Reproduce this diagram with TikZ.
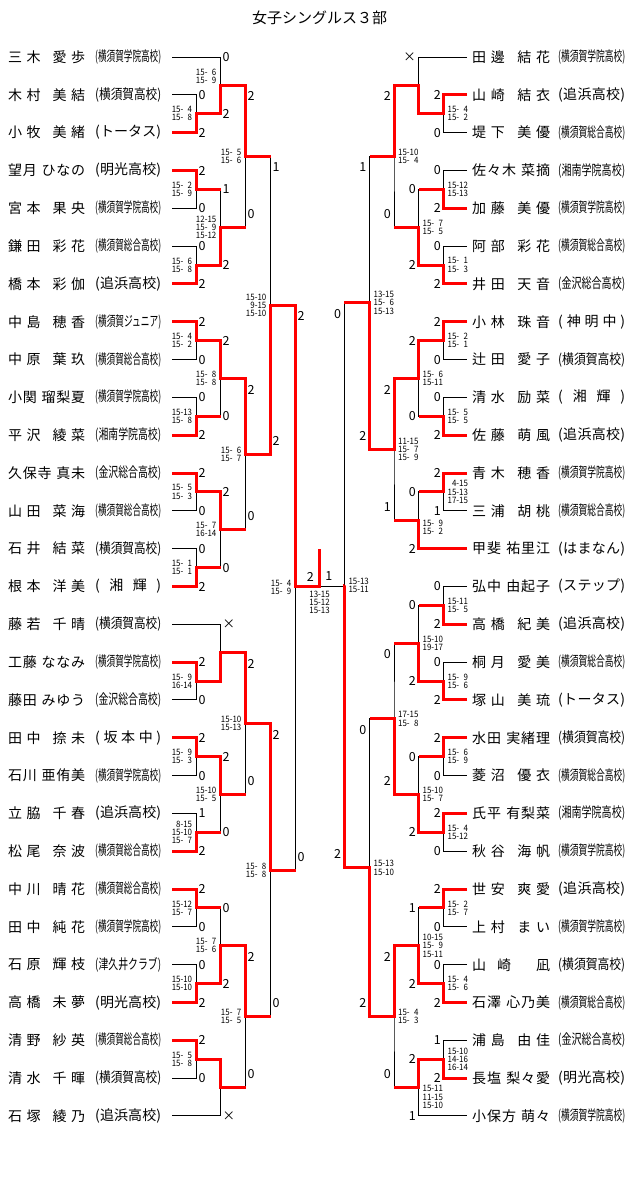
\documentclass[tikz,border=0pt]{standalone}
\usepackage{fontspec}
\setmainfont{Noto Sans CJK JP}
\newfontfamily\narrowfam{Noto Sans CJK JP}[FakeStretch=0.9]
\usepackage{graphicx}
\usetikzlibrary{calc}
\pgfdeclarelayer{front}
\pgfsetlayers{main,front}

\newcommand\namefont{\fontsize{14}{16}\selectfont}
\newcommand\labfont{\fontsize{12.5}{14}\selectfont}
\newcommand\scorefont{\narrowfam\fontsize{8.8}{8.2}\selectfont}
\newcommand\fs{\hphantom{0}}

% spread the letters of #2 over a box of width #1
\newlength\fitw
\def\spreadloop#1{\ifx\relax#1\else#1\hfil\expandafter\spreadloop\fi}
\newcommand\spread[2]{\makebox[#1][s]{\spreadloop#2\relax\unskip}}
\newcommand\fitbox[2]{\settowidth\fitw{#2}%
  \ifdim\fitw>#1\relax\resizebox{#1}{\height}{#2}\else\spread{#1}{#2}\fi}

\newcommand\ry[1]{57+37.82*#1}

\tikzset{
  title/.style={inner sep=0pt, font=\fontsize{15}{18}\selectfont},
  pname/.style={anchor=west, inner sep=0pt, font=\namefont},
  wire/.style={line width=1pt},
  win/.style={red, line width=3pt},
  lab/.style={inner sep=0pt, font=\labfont},
  tally/.style={inner sep=0pt, font=\scorefont, align=right},
  west low/.style={toplab/.style={lab, anchor=west, xshift=2pt},
    botlab/.style={lab, anchor=west, xshift=2pt},
    score/.style={tally, anchor=east, xshift=-4pt}},
  west high/.style={toplab/.style={lab, anchor=west, xshift=2pt, yshift=-11pt},
    botlab/.style={lab, anchor=west, xshift=2pt, yshift=13.5pt},
    score/.style={tally, anchor=east, xshift=-4pt}},
  east low/.style={toplab/.style={lab, anchor=east, xshift=-2.5pt},
    botlab/.style={lab, anchor=east, xshift=-2.5pt},
    score/.style={tally, anchor=west, xshift=4pt}},
  east high/.style={toplab/.style={lab, anchor=east, xshift=-3pt, yshift=-11pt},
    botlab/.style={lab, anchor=east, xshift=-3pt, yshift=13.5pt},
    score/.style={tally, anchor=west, xshift=4pt}},
}

% players: index, name, school
\newcommand\lplay[3]{%
  \node[pname] (ln#1) at (8,{\ry{#1}}) {\spread{77pt}{#2}};
  \node[pname] (ls#1) at (95,{\ry{#1}}) {\fitbox{66pt}{#3}};
  \coordinate (L#1) at (172,{\ry{#1}});}
\newcommand\rplay[3]{%
  \node[pname] (rn#1) at (472,{\ry{#1}}) {\spread{78pt}{#2}};
  \node[pname] (rs#1) at (558,{\ry{#1}}) {\fitbox{67pt}{#3}};
  \coordinate (R#1) at (467,{\ry{#1}});}

% match: name, column, top, bottom, winner, next column, top label, bottom label, score
\newcommand\bout[9]{%
  \coordinate (#1) at ($(#2 |- #3)!.5!(#2 |- #4)$);
  \draw[wire] (#3) -| (#1) |- (#4);
  \begin{pgfonlayer}{front}
    \draw[win] (#5) -| (#1) -- (#6 |- #1);
  \end{pgfonlayer}
  \node[toplab] at (#2 |- #3) {#7};
  \node[botlab] at (#2 |- #4) {#8};
  \node[score] at (#1) {#9};}

\begin{document}
\begin{tikzpicture}[x=1pt, y=-1pt]

    \useasboundingbox (0,0) rectangle (640,1197);
    \fill[white] (0,0) rectangle (640,1197);

    \node[title] (ttl) at (319.5,18) {女子シングルス３部};

    \coordinate (c1) at (196.3,0);
    \coordinate (c2) at (220.5,0);
    \coordinate (c3) at (245.5,0);
    \coordinate (c4) at (270.5,0);
    \coordinate (c5) at (295.5,0);
    \coordinate (d1) at (443.5,0);
    \coordinate (d2) at (418.5,0);
    \coordinate (d3) at (394,0);
    \coordinate (d4) at (369.5,0);
    \coordinate (d5) at (344.3,0);

    % left half
    \lplay{0}{三木~愛歩}{(横須賀学院高校)}
    \lplay{1}{木村~美結}{(横須賀高校)}
    \lplay{2}{小牧~美緒}{(トータス)}
    \lplay{3}{望月~ひなの}{(明光高校)}
    \lplay{4}{宮本~果央}{(横須賀学院高校)}
    \lplay{5}{鎌田~彩花}{(横須賀総合高校)}
    \lplay{6}{橋本~彩伽}{(追浜高校)}
    \lplay{7}{中島~穂香}{(横須賀ジュニア)}
    \lplay{8}{中原~葉玖}{(横須賀総合高校)}
    \lplay{9}{小関~瑠梨夏}{(横須賀学院高校)}
    \lplay{10}{平沢~綾菜}{(湘南学院高校)}
    \lplay{11}{久保寺~真未}{(金沢総合高校)}
    \lplay{12}{山田~菜海}{(横須賀総合高校)}
    \lplay{13}{石井~結菜}{(横須賀高校)}
    \lplay{14}{根本~洋美}{(湘輝)}
    \lplay{15}{藤若~千晴}{(横須賀高校)}
    \lplay{16}{工藤~ななみ}{(横須賀学院高校)}
    \lplay{17}{藤田~みゆう}{(金沢総合高校)}
    \lplay{18}{田中~捺未}{(坂本中)}
    \lplay{19}{石川~亜侑美}{(横須賀学院高校)}
    \lplay{20}{立脇~千春}{(追浜高校)}
    \lplay{21}{松尾~奈波}{(横須賀総合高校)}
    \lplay{22}{中川~晴花}{(横須賀総合高校)}
    \lplay{23}{田中~純花}{(横須賀学院高校)}
    \lplay{24}{石原~輝枝}{(津久井クラブ)}
    \lplay{25}{高橋~未夢}{(明光高校)}
    \lplay{26}{清野~紗英}{(横須賀総合高校)}
    \lplay{27}{清水~千暉}{(横須賀高校)}
    \lplay{28}{石塚~綾乃}{(追浜高校)}

    % right half
    \rplay{0}{田邊~結花}{(横須賀学院高校)}
    \rplay{1}{山崎~結衣}{(追浜高校)}
    \rplay{2}{堤下~美優}{(横須賀総合高校)}
    \rplay{3}{佐々木~菜摘}{(湘南学院高校)}
    \rplay{4}{加藤~美優}{(横須賀学院高校)}
    \rplay{5}{阿部~彩花}{(横須賀総合高校)}
    \rplay{6}{井田~天音}{(金沢総合高校)}
    \rplay{7}{小林~珠音}{(神明中)}
    \rplay{8}{辻田~愛子}{(横須賀高校)}
    \rplay{9}{清水~励菜}{(湘輝)}
    \rplay{10}{佐藤~萌風}{(追浜高校)}
    \rplay{11}{青木~穂香}{(横須賀学院高校)}
    \rplay{12}{三浦~胡桃}{(横須賀総合高校)}
    \rplay{13}{甲斐~祐里江}{(はまなん)}
    \rplay{14}{弘中~由起子}{(ステップ)}
    \rplay{15}{高橋~紀美}{(追浜高校)}
    \rplay{16}{桐月~愛美}{(横須賀総合高校)}
    \rplay{17}{塚山~美琉}{(トータス)}
    \rplay{18}{水田~実緒理}{(横須賀高校)}
    \rplay{19}{菱沼~優衣}{(横須賀総合高校)}
    \rplay{20}{氏平~有梨菜}{(湘南学院高校)}
    \rplay{21}{秋谷~海帆}{(横須賀学院高校)}
    \rplay{22}{世安~爽愛}{(追浜高校)}
    \rplay{23}{上村~まい}{(横須賀学院高校)}
    \rplay{24}{山崎~凪}{(横須賀高校)}
    \rplay{25}{石澤~心乃美}{(横須賀総合高校)}
    \rplay{26}{浦島~由佳}{(金沢総合高校)}
    \rplay{27}{長塩~梨々愛}{(明光高校)}
    \rplay{28}{小保方~萌々}{(横須賀学院高校)}

    % left rounds 1 and 2
    \begin{scope}[west low]
    \bout{m1}{c1}{L1}{L2}{L2}{c2}{0}{2}{15-\fs4\\15-\fs8}
    \bout{m3}{c1}{L3}{L4}{L3}{c2}{2}{0}{15-\fs2\\15-\fs9}
    \bout{m4}{c1}{L5}{L6}{L6}{c2}{0}{2}{15-\fs6\\15-\fs8}
    \bout{m7}{c1}{L7}{L8}{L7}{c2}{2}{0}{15-\fs4\\15-\fs2}
    \bout{m8}{c1}{L9}{L10}{L10}{c2}{0}{2}{15-13\\15-\fs8}
    \bout{m10}{c1}{L11}{L12}{L11}{c2}{2}{0}{15-\fs5\\15-\fs3}
    \bout{m11}{c1}{L13}{L14}{L14}{c2}{0}{2}{15-\fs1\\15-\fs1}
    \bout{m15}{c1}{L16}{L17}{L16}{c2}{2}{0}{15-\fs9\\16-14}
    \bout{m17}{c1}{L18}{L19}{L18}{c2}{2}{0}{15-\fs9\\15-\fs3}
    \bout{m18}{c1}{L20}{L21}{L21}{c2}{1}{2}{8-15\\15-10\\15-\fs7}
    \bout{m21}{c1}{L22}{L23}{L22}{c2}{2}{0}{15-12\\15-\fs7}
    \bout{m22}{c1}{L24}{L25}{L25}{c2}{0}{2}{15-10\\15-10}
    \bout{m24}{c1}{L26}{L27}{L26}{c2}{2}{0}{15-\fs5\\15-\fs8}
    \begin{scope}[score/.append style={yshift=9pt}]
    \bout{m2}{c2}{L0}{m1}{m1}{c3}{0}{2}{15-\fs6\\15-\fs9}
    \end{scope}
    \bout{m5}{c2}{m3}{m4}{m4}{c3}{1}{2}{12-15\\15-\fs9\\15-12}
    \bout{m9}{c2}{m7}{m8}{m7}{c3}{2}{0}{15-\fs8\\15-\fs8}
    \bout{m12}{c2}{m10}{m11}{m10}{c3}{2}{0}{15-\fs7\\16-14}
    \bout{m16}{c2}{L15}{m15}{m15}{c3}{×}{}{}
    \bout{m19}{c2}{m17}{m18}{m17}{c3}{2}{0}{15-10\\15-\fs5}
    \bout{m23}{c2}{m21}{m22}{m22}{c3}{0}{2}{15-\fs7\\15-\fs6}
    \bout{m25}{c2}{m24}{L28}{m24}{c3}{}{×}{}
    \end{scope}

    % left rounds 3 to 5
    \begin{scope}[west high]
    \bout{m6}{c3}{m2}{m5}{m2}{c4}{2}{0}{15-\fs5\\15-\fs6}
    \bout{m13}{c3}{m9}{m12}{m9}{c4}{2}{0}{15-\fs6\\15-\fs7}
    \bout{m20}{c3}{m16}{m19}{m16}{c4}{2}{0}{15-10\\15-13}
    \bout{m26}{c3}{m23}{m25}{m23}{c4}{2}{0}{15-\fs7\\15-\fs5}
    \bout{m14}{c4}{m6}{m13}{m13}{c5}{1}{2}{15-10\\9-15\\15-10}
    \bout{m27}{c4}{m20}{m26}{m20}{c5}{2}{0}{15-\fs8\\15-\fs8}
    \bout{m28}{c5}{m14}{m27}{m14}{c5}{2}{0}{15-\fs4\\15-\fs9}
    \end{scope}

    % right rounds 1 and 2
    \begin{scope}[east low]
    \bout{r1}{d1}{R1}{R2}{R1}{d2}{2}{0}{15-\fs4\\15-\fs2}
    \bout{r3}{d1}{R3}{R4}{R4}{d2}{0}{2}{15-12\\15-13}
    \bout{r4}{d1}{R5}{R6}{R6}{d2}{0}{2}{15-\fs1\\15-\fs3}
    \bout{r7}{d1}{R7}{R8}{R7}{d2}{2}{0}{15-\fs2\\15-\fs1}
    \bout{r8}{d1}{R9}{R10}{R10}{d2}{0}{2}{15-\fs5\\15-\fs5}
    \bout{r10}{d1}{R11}{R12}{R11}{d2}{2}{1}{4-15\\15-13\\17-15}
    \bout{r14}{d1}{R14}{R15}{R15}{d2}{0}{2}{15-11\\15-\fs5}
    \bout{r15}{d1}{R16}{R17}{R17}{d2}{0}{2}{15-\fs9\\15-\fs6}
    \bout{r17}{d1}{R18}{R19}{R18}{d2}{2}{0}{15-\fs6\\15-\fs9}
    \bout{r18}{d1}{R20}{R21}{R20}{d2}{2}{0}{15-\fs4\\15-12}
    \bout{r21}{d1}{R22}{R23}{R22}{d2}{2}{0}{15-\fs2\\15-\fs7}
    \bout{r22}{d1}{R24}{R25}{R25}{d2}{0}{2}{15-\fs4\\15-\fs6}
    \bout{r24}{d1}{R26}{R27}{R27}{d2}{1}{2}{15-10\\14-16\\16-14}
    \bout{r2}{d2}{R0}{r1}{r1}{d3}{×}{}{}
    \bout{r5}{d2}{r3}{r4}{r4}{d3}{0}{2}{15-\fs7\\15-\fs5}
    \bout{r9}{d2}{r7}{r8}{r7}{d3}{2}{0}{15-\fs6\\15-11}
    \bout{r16}{d2}{r14}{r15}{r15}{d3}{0}{2}{15-10\\19-17}
    \bout{r19}{d2}{r17}{r18}{r18}{d3}{0}{2}{15-10\\15-\fs7}
    \bout{r23}{d2}{r21}{r22}{r22}{d3}{1}{2}{10-15\\15-\fs9\\15-11}
    \begin{scope}[score/.append style={yshift=-7pt}]
    \bout{r11}{d2}{r10}{R13}{R13}{d3}{0}{2}{15-\fs9\\15-\fs2}
    \end{scope}
    \begin{scope}[score/.append style={yshift=-9.5pt}]
    \bout{r25}{d2}{r24}{R28}{r24}{d3}{2}{1}{15-11\\11-15\\15-10}
    \end{scope}
    \end{scope}

    % right rounds 3 to 5
    \begin{scope}[east high]
    \bout{r6}{d3}{r2}{r5}{r2}{d4}{2}{0}{15-10\\15-\fs4}
    \bout{r12}{d3}{r9}{r11}{r9}{d4}{2}{1}{11-15\\15-\fs7\\15-\fs9}
    \bout{r20}{d3}{r16}{r19}{r19}{d4}{0}{2}{17-15\\15-\fs8}
    \bout{r26}{d3}{r23}{r25}{r23}{d4}{2}{0}{15-\fs4\\15-\fs3}
    \bout{r13}{d4}{r6}{r12}{r12}{d5}{1}{2}{13-15\\15-\fs6\\15-13}
    \bout{r27}{d4}{r20}{r26}{r26}{d5}{0}{2}{15-13\\15-10}
    \bout{r28}{d5}{r13}{r27}{r27}{d5}{0}{2}{15-13\\15-11}
    \end{scope}

    % final
    \coordinate (fin) at (319.6,586.5);
    \coordinate (champ) at (319.6,549);
    \draw[wire] (fin) -- (d5 |- fin);
    \begin{pgfonlayer}{front}
    \draw[win] (c5 |- fin) -- (fin) -- (champ);
    \end{pgfonlayer}
    \node[lab, anchor=east, xshift=-5.5pt, yshift=10pt] (fl) at (fin) {2};
    \node[lab, anchor=west, xshift=5.5pt, yshift=10pt] (fr) at (fin) {1};
    \node[tally, anchor=north, yshift=-4pt, align=center] (fsc) at (fin) {13-15\\15-12\\15-13};

\end{tikzpicture}
\end{document}
